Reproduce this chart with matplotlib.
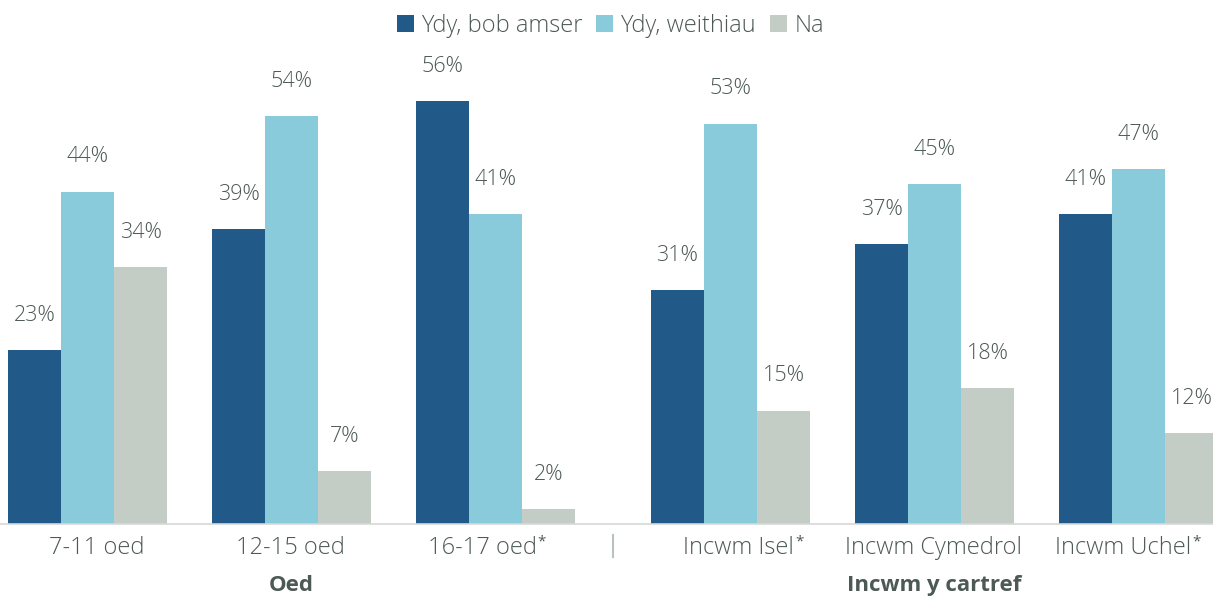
import matplotlib
matplotlib.use("Agg")
import matplotlib.pyplot as plt
import numpy as np

plt.rcParams["font.family"] = ["Open Sans", "DejaVu Sans"]

# data
categories = ["7-11 oed", "12-15 oed", "16-17 oed",
              "Incwm Isel", "Incwm Cymedrol", "Incwm Uchel"]
starred = [False, False, True, True, False, True]
series_names = ["Ydy, bob amser", "Ydy, weithiau", "Na"]
always = [23, 39, 56, 31, 37, 41]
sometimes = [44, 54, 41, 53, 45, 47]
never = [34, 7, 2, 15, 18, 12]
group_names = ["Oed", "Incwm y cartref"]

colors = ["#215A88", "#89CBDB", "#C3CDC5"]
text_col = "#4C5954"

# two blocks of categories with a small extra gap between them
x = np.array([0, 1, 2, 3.152, 4.152, 5.152])
width = 0.26
# tick labels in the original sit a little off the group centres
label_shift = np.array([0.044, -0.007, -0.066, 0.039, -0.007, -0.076])

fig = plt.figure(figsize=(12.13, 6.01), dpi=100)
ax = fig.add_axes([0, 77 / 601, 1, 484 / 601])

for i, (vals, name) in enumerate(zip([always, sometimes, never], series_names)):
    bars = ax.bar(x + (i - 1) * width, vals, width, color=colors[i], label=name, zorder=2)
    for b, v in zip(bars, vals):
        ax.annotate(f"{v}%", (b.get_x() + b.get_width() / 2, v),
                    xytext=(0, 25), textcoords="offset points",
                    ha="center", va="center", fontsize=15.5, color=text_col,
                    fontweight="light")

ax.set_xlim(-0.429, 5.517)
ax.set_ylim(0, 64.07)
ax.set_yticks([])
for s in ["top", "right", "left"]:
    ax.spines[s].set_visible(False)
ax.spines["bottom"].set_color("#D6D9D7")
ax.spines["bottom"].set_linewidth(1.2)

ax.set_xticks(x + label_shift)
ax.set_xticklabels(categories, fontsize=17, color=text_col, fontweight="light")
ax.tick_params(axis="x", length=0, pad=9)

# separator between the two blocks
sep = (x[2] + x[3]) / 2
ax.plot([sep, sep], [-0.023, -0.068], color="#B9C2BD", lw=1.5,
        transform=ax.get_xaxis_transform(), clip_on=False)

for gx, gname in zip([x[1], x[4]], group_names):
    ax.text(gx, -0.128, gname, transform=ax.get_xaxis_transform(),
            ha="center", va="center", fontsize=16, fontweight="bold", color=text_col)

fig.legend(loc="upper center", bbox_to_anchor=(0.503, 1.012), ncol=3, frameon=False,
           prop={"size": 17, "weight": "light"}, handlelength=0.72, handleheight=0.72,
           handletextpad=0.3, columnspacing=0.6, labelcolor=text_col)

# small raised asterisks after some tick labels
fig.canvas.draw()
for lbl, star in zip(ax.get_xticklabels(), starred):
    if star:
        bb = lbl.get_window_extent()
        fig.text(bb.x1 + 1, bb.y1 + 2, "*", transform=None, fontsize=11,
                 ha="left", va="top", color=text_col)

fig.savefig("out.png", dpi=100)
